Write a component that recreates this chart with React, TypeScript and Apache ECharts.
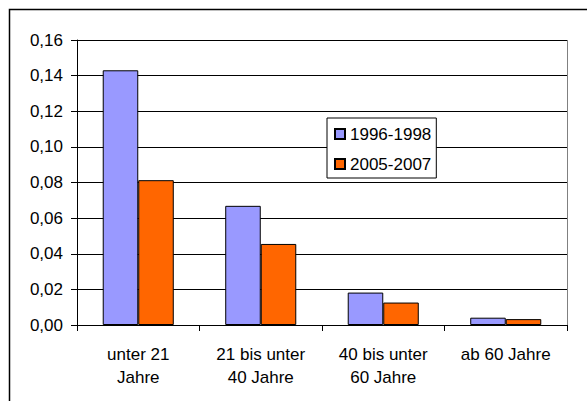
import React, { useEffect, useRef } from "react";
import * as echarts from "echarts";

const categories = ["unter 21\nJahre", "21 bis unter\n40 Jahre", "40 bis unter\n60 Jahre", "ab 60 Jahre"];
const seriesNames = ["1996-1998", "2005-2007"];
const values1996 = [0.143, 0.0669, 0.0182, 0.0041];
const values2005 = [0.0813, 0.0455, 0.0126, 0.0033];
const yTicks = { min: 0, max: 0.16, interval: 0.02 };

const FONT = "'Liberation Sans', Arial, sans-serif";

export default function App() {
  const ref = useRef<HTMLDivElement>(null);
  useEffect(() => {
    if (!ref.current) return;
    const chart = echarts.init(ref.current, null, { renderer: "svg" });
    chart.setOption({
      animation: false,
      backgroundColor: "#ffffff",
      textStyle: { fontFamily: FONT },
      grid: { left: 77, top: 40, right: 20, bottom: 76, containLabel: false },
      legend: {
        orient: "vertical",
        left: 327,
        top: 118,
        data: seriesNames,
        itemWidth: 10,
        itemHeight: 10,
        itemGap: 10,
        padding: [6, 5, 4, 7],
        borderColor: "#000",
        borderWidth: 1,
        backgroundColor: "#fff",
        icon: "rect",
        textStyle: { fontSize: 17, color: "#000", fontFamily: FONT, lineHeight: 20 },
      },
      xAxis: {
        type: "category",
        data: categories,
        axisLine: { lineStyle: { color: "#000", width: 1 } },
        axisTick: { show: true, length: 6, lineStyle: { color: "#000" } },
        axisLabel: { color: "#000", fontSize: 17, lineHeight: 23, margin: 18, fontFamily: FONT, interval: 0 },
        splitLine: { show: false },
      },
      yAxis: {
        type: "value",
        min: yTicks.min,
        max: yTicks.max,
        interval: yTicks.interval,
        axisLine: { show: true, lineStyle: { color: "#000", width: 1 } },
        axisTick: { show: true, length: 6, lineStyle: { color: "#000" } },
        axisLabel: {
          color: "#000",
          fontSize: 17,
          margin: 14,
          fontFamily: FONT,
          formatter: (v: number) => v.toFixed(2).replace(".", ","),
        },
        splitLine: { show: true, lineStyle: { color: "#000", width: 1 } },
      },
      series: [
        {
          name: seriesNames[0],
          type: "bar",
          data: values1996,
          barGap: "0%",
          barCategoryGap: "42%",
          itemStyle: { color: "#9999FF", borderColor: "#000", borderWidth: 1 },
        },
        {
          name: seriesNames[1],
          type: "bar",
          data: values2005,
          barGap: "0%",
          barCategoryGap: "42%",
          itemStyle: { color: "#FF6600", borderColor: "#000", borderWidth: 1 },
        },
      ],
      graphic: [
        {
          type: "rect",
          shape: { x: 9.5, y: 9.5, width: 700, height: 600 },
          style: { fill: "none", stroke: "#000", lineWidth: 1.5 },
          silent: true,
          z: -1,
        },
        {
          type: "line",
          shape: { x1: 567.5, y1: 40, x2: 567.5, y2: 325 },
          style: { stroke: "#808080", lineWidth: 1 },
          silent: true,
        },
      ],
    });
    return () => chart.dispose();
  }, []);
  return (
    <div
      ref={ref}
      style={{ position: "fixed", left: 0, top: 0, width: 587, height: 401, background: "#fff" }}
    />
  );
}
